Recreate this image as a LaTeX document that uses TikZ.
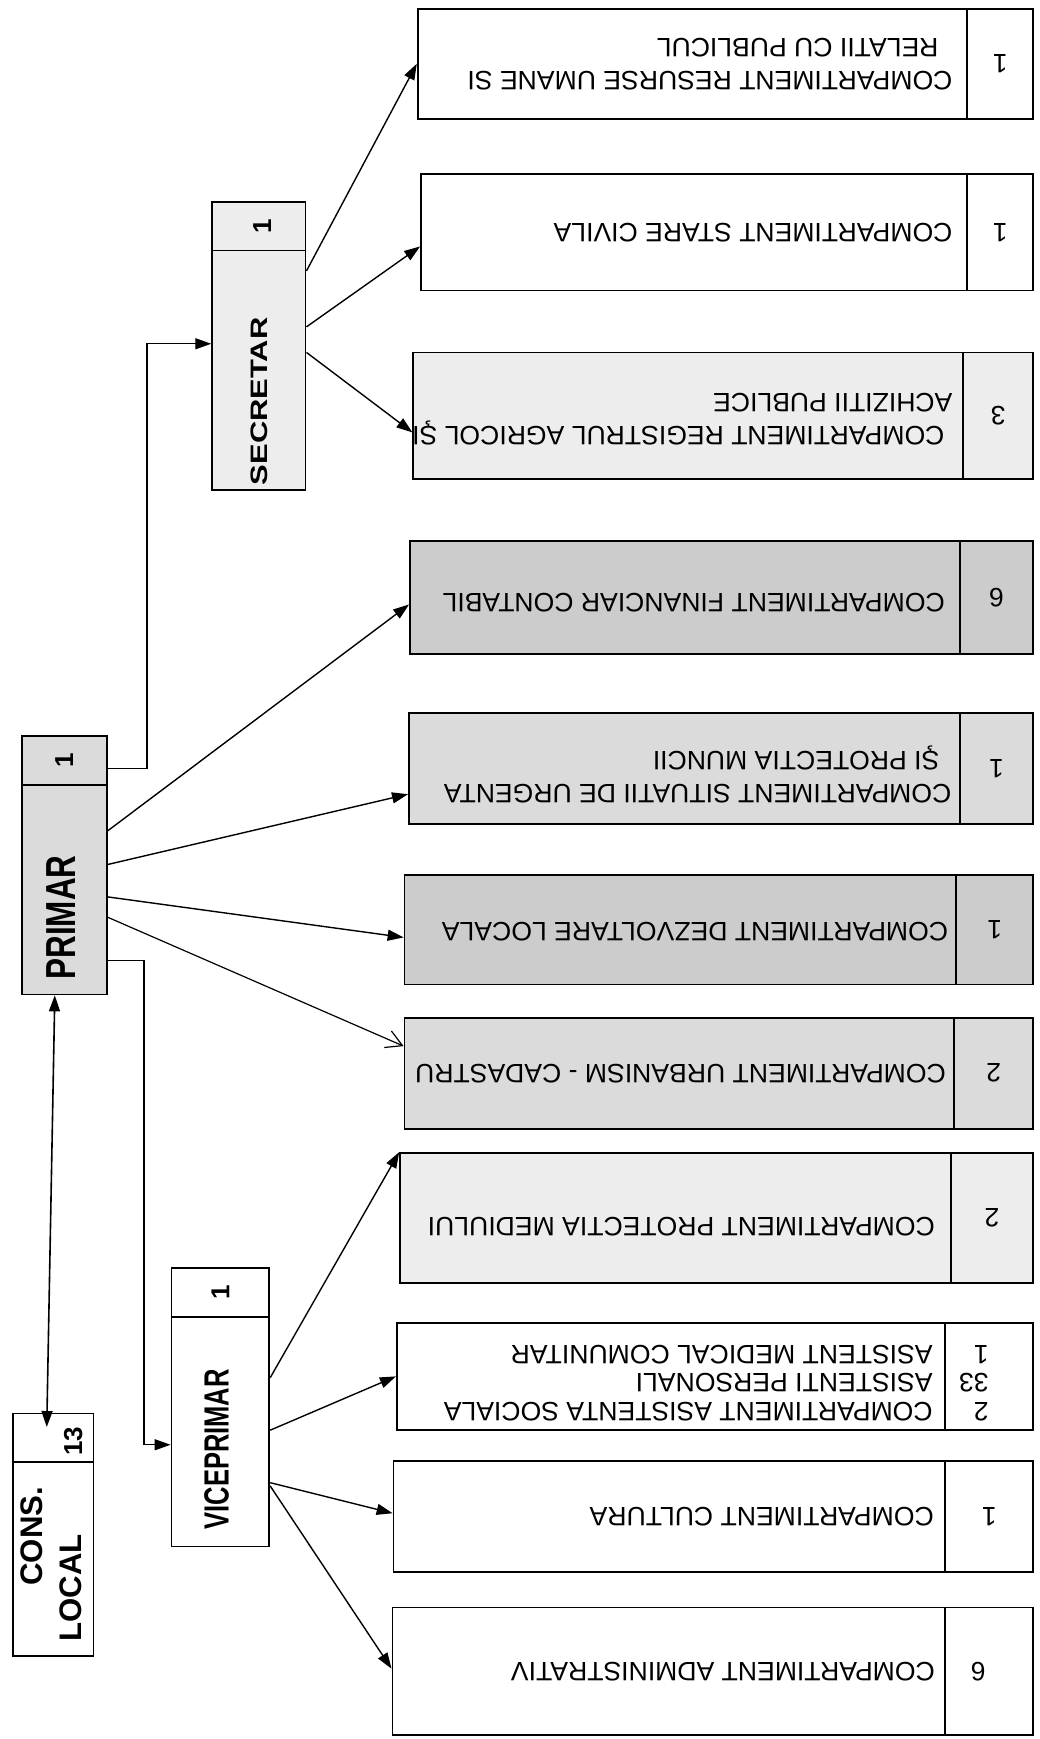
\documentclass[tikz,border=0pt]{standalone}
\usepackage{fontspec}
\setmainfont{Liberation Sans}
\usepackage{graphicx}
\usetikzlibrary{arrows.meta,fit,calc}
\definecolor{gA}{gray}{0.93}
\definecolor{gB}{gray}{0.86}
\definecolor{gC}{gray}{0.80}
\begin{document}
\begin{tikzpicture}[x=0.55pt,y=-0.5547pt,
  box/.style={draw, line width=0.9pt, inner sep=0pt},
  arr/.style={line width=0.7pt, -{Triangle[length=8pt,width=5.5pt]}},
  oarr/.style={line width=0.6pt, -{Straight Barb[length=8pt,width=9pt,line width=0.6pt]}},
  dbl/.style={line width=0.8pt, {Triangle[length=8pt,width=5.5pt]}-{Triangle[length=8pt,width=5.5pt]}},
  ctext/.style={font=\fontsize{13.3}{16.5}\selectfont, align=left, inner sep=0pt, rotate=180},
  hnum/.style={font=\bfseries\fontsize{13}{15}\selectfont, inner sep=0pt, rotate=90},
]
\fill[white] (0,0) rectangle (946,1568.6);
\useasboundingbox (0,0) rectangle (946,1568.6);

% ---------- header boxes ----------
\node[box, fit={(12,1319) (85,1494)}] (cons) {};
\node[box, fit={(12,1275) (85,1319)}] (consN) {};
\node[font=\bfseries\fontsize{15.6}{19.5}\selectfont, align=left, inner sep=0pt, rotate=90, anchor=west] (consT) at (47,1481) {\hspace*{28pt}CONS.\\LOCAL};
\node[hnum] (consNum) at ($(consN.center)+(18,3)$) {13};

\node[box, fill=gB, fit={(20,708) (97,897)}] (pri) {};
\node[box, fill=gB, fit={(20,664) (97,708)}] (priN) {};
\node[font=\bfseries\fontsize{21}{24}\selectfont, inner sep=0pt, rotate=90, anchor=west] (priT) at (56,884) {\scalebox{0.75}[1]{PRIMAR}};
\node[hnum] (priNum) at (priN) {1};

\node[box, fill=gA, fit={(193,226) (278,442)}] (sec) {};
\node[box, fill=gA, fit={(193,182) (278,226)}] (secN) {};
\node[font=\bfseries\fontsize{11.9}{14}\selectfont, inner sep=0pt, rotate=90, anchor=west] (secT) at (236,438) {\scalebox{1.3}[1]{SECRETAR}};
\node[hnum] (secNum) at ($(secN.center)+(3,0)$) {1};

\node[box, fit={(156,1188) (245,1395)}] (vice) {};
\node[box, fit={(156,1144) (245,1188)}] (viceN) {};
\node[font=\bfseries\fontsize{17.5}{20}\selectfont, inner sep=0pt, rotate=90, anchor=west] (viceT) at (197,1380) {\scalebox{0.73}[1]{VICEPRIMAR}};
\node[hnum] (viceNum) at (viceN) {1};

% ---------- compartment boxes ----------
\node[box, fit={(380,8) (880,107)}] (res) {};
\node[box, fit={(880,8) (940,107)}] (resN) {};
\node[ctext, anchor=west] (resT) at ($(res.east)+(-14,0)$) {COMPARTIMENT RESURSE UMANE SI\\\hspace*{7pt}RELATII CU PUBLICUL};
\node[ctext] (resNum) at (resN) {1};

\node[box, fit={(383,157) (880,262)}] (sta) {};
\node[box, fit={(880,157) (940,262)}] (staN) {};
\node[ctext, anchor=west] (staT) at ($(sta.east)+(-14,0)$) {COMPARTIMENT STARE CIVILA};
\node[ctext] (staNum) at (staN) {1};

\node[box, fill=gA, fit={(376,318) (876,432)}] (reg) {};
\node[box, fill=gA, fit={(876,318) (940,432)}] (regN) {};
\node[ctext, anchor=west] (regT) at ($(reg.east)+(-10,3)$) {\hspace*{4pt}COMPARTIMENT REGISTRUL AGRICOL ŞI\\ACHIZITII PUBLICE};
\node[ctext] (regNum) at (regN) {3};

\node[box, fill=gC, fit={(373,488) (873,590)}] (fin) {};
\node[box, fill=gC, fit={(873,488) (940,590)}] (finN) {};
\node[ctext, anchor=west] (finT) at ($(fin.east)+(-14,5)$) {COMPARTIMENT FINANCIAR CONTABIL};
\node[ctext] (finNum) at (finN) {6};

\node[box, fill=gB, fit={(372,643) (873,743)}] (sit) {};
\node[box, fill=gB, fit={(873,643) (940,743)}] (sitN) {};
\node[ctext, anchor=west] (sitT) at ($(sit.east)+(-8,6)$) {COMPARTIMENT SITUATII DE URGENTA\\\hspace*{6pt}ŞI PROTECTIA MUNCII};
\node[ctext] (sitNum) at (sitN) {1};

\node[box, fill=gC, fit={(368,789) (870,888)}] (dez) {};
\node[box, fill=gC, fit={(870,789) (940,888)}] (dezN) {};
\node[ctext, anchor=west] (dezT) at ($(dez.east)+(-8,2)$) {COMPARTIMENT DEZVOLTARE LOCALA};
\node[ctext] (dezNum) at (dezN) {1};

\node[box, fill=gB, fit={(368,918) (868,1018)}] (urb) {};
\node[box, fill=gB, fit={(868,918) (940,1018)}] (urbN) {};
\node[ctext, anchor=west] (urbT) at ($(urb.east)+(-8,0)$) {COMPARTIMENT URBANISM - CADASTRU};
\node[ctext] (urbNum) at (urbN) {2};

\node[box, fill=gA, fit={(364,1040) (865,1157)}] (pro) {};
\node[box, fill=gA, fit={(865,1040) (940,1157)}] (proN) {};
\node[ctext, anchor=west] (proT) at ($(pro.east)+(-15,8)$) {COMPARTIMENT PROTECTIA MEDIULUI};
\node[ctext] (proNum) at (proN) {2};

\node[box, fit={(361,1193) (860,1290)}] (asi) {};
\node[box, fit={(860,1193) (940,1290)}] (asiN) {};
\node[ctext, anchor=west, font=\fontsize{13.3}{14.2}\selectfont] (asiT) at ($(asi.east)+(-12,6)$) {COMPARTIMENT ASISTENTA SOCIALA\\ASISTENTI PERSONALI\\ASISTENT MEDICAL COMUNITAR};
\node[ctext, font=\fontsize{13.3}{14.2}\selectfont] (asiNum) at ($(asiN.center)+(-14,6)$) {2\\33\\1};

\node[box, fit={(358,1318) (860,1418)}] (cul) {};
\node[box, fit={(860,1318) (940,1418)}] (culN) {};
\node[ctext, anchor=west] (culT) at ($(cul.east)+(-11,0)$) {COMPARTIMENT CULTURA};
\node[ctext] (culNum) at (culN) {1};

\node[box, fit={(357,1450) (860,1565)}] (adm) {};
\node[box, fit={(860,1450) (940,1565)}] (admN) {};
\node[ctext, anchor=west] (admT) at ($(adm.east)+(-10,0)$) {COMPARTIMENT ADMINISTRATIV};
\node[ctext] (admNum) at ($(admN.center)+(-10,0)$) {6};

% ---------- connectors ----------
\draw[dbl] ($(consN.north west)!0.42!(consN.north east)+(0,13)$) -- ($(pri.south west)!0.39!(pri.south east)$);

\draw[arr] ($(priN.north east)!0.66!(priN.south east)$) -- ++(36,0) |- ($(sec.north west)!0.39!(sec.south west)$);
\draw[arr] ($(pri.north east)!0.836!(pri.south east)$) -- ++(33,0) |- ($(vice.north west)!0.556!(vice.south west)$);

\draw[arr] ($(pri.north east)!0.222!(pri.south east)$) -- ($(fin.north west)!0.56!(fin.south west)$);
\draw[arr] ($(pri.north east)!0.381!(pri.south east)$) -- ($(sit.north west)!0.73!(sit.south west)$);
\draw[arr] ($(pri.north east)!0.534!(pri.south east)$) -- ($(dez.north west)!0.57!(dez.south west)$);
\draw[oarr] ($(pri.north east)!0.63!(pri.south east)$) -- ($(urb.north west)!0.26!(urb.south west)$);

\draw[arr] ($(sec.north east)!0.088!(sec.south east)$) -- ($(res.north west)!0.5!(res.south west)$);
\draw[arr] ($(sec.north east)!0.32!(sec.south east)$) -- ($(sta.north west)!0.62!(sta.south west)$);
\draw[arr] ($(sec.north east)!0.426!(sec.south east)$) -- ($(reg.north west)!0.63!(reg.south west)$);

\draw[arr] ($(vice.north east)!0.266!(vice.south east)$) -- (pro.north west);
\draw[arr] ($(vice.north east)!0.493!(vice.south east)$) -- ($(asi.north west)!0.5!(asi.south west)$);
\draw[arr] ($(vice.north east)!0.72!(vice.south east)$) -- ($(cul.north west)!0.47!(cul.south west)$);
\draw[arr] ($(vice.north east)!0.734!(vice.south east)$) -- ($(adm.north west)!0.48!(adm.south west)$);
\end{tikzpicture}
\end{document}
